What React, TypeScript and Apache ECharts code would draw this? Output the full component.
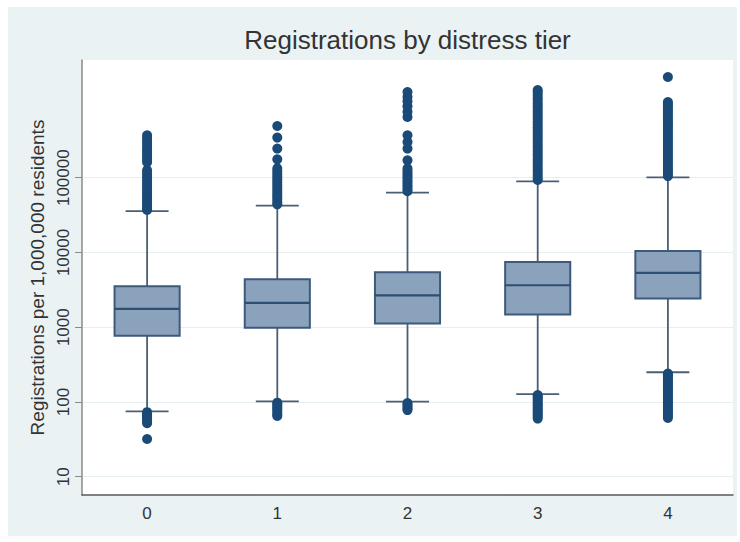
import React, { useEffect, useRef } from "react";
import * as echarts from "echarts";

const categories = ["0", "1", "2", "3", "4"];
const yTickValues = [10, 100, 1000, 10000, 100000];

// [lower whisker, q1, median, q3, upper whisker]
const boxStats = [
  [75, 766, 1760, 3530, 35600],
  [102, 980, 2110, 4380, 42400],
  [101, 1120, 2660, 5430, 63200],
  [127, 1480, 3640, 7470, 89500],
  [250, 2420, 5320, 10470, 101000],
];

const outliers0 = [
  37000, 39000, 41000, 44000, 47000, 50000, 54000, 58000, 62000, 67000, 72000, 78000, 85000, 92000,
  100000, 108000, 117000, 126000, 161000, 175000, 190000, 205000, 222000, 240000, 260000, 285000,
  310000, 340000, 369000, 73, 70, 67, 64, 61, 58, 55, 52, 32,
];
const outliers1 = [
  44000, 47000, 51000, 55000, 59000, 64000, 69000, 75000, 81000, 88000, 95000, 103000, 112000,
  122000, 133000, 176000, 245000, 344000, 491000, 98, 93, 88, 83, 78, 73, 68, 65,
];
const outliers2 = [
  66000, 70000, 75000, 80000, 86000, 92000, 99000, 106000, 114000, 123000, 133000, 171000, 245000,
  300000, 369000, 650000, 760000, 900000, 1050000, 1200000, 1400000, 97, 92, 87, 82, 78,
];
const outliers3 = [
  93000, 100000, 108000, 117000, 127000, 138000, 150000, 163000, 177000, 192000, 208000, 226000,
  245000, 266000, 289000, 314000, 341000, 370000, 402000, 436000, 474000, 515000, 560000, 608000,
  660000, 717000, 779000, 846000, 920000, 1000000, 1090000, 1180000, 1290000, 1400000, 1490000,
  124, 118, 112, 106, 100, 95, 90, 85, 80, 76, 72, 68, 64, 60,
];
const outliers4 = [
  105000, 112000, 120000, 129000, 139000, 150000, 162000, 175000, 189000, 204000, 220000, 238000,
  257000, 278000, 300000, 325000, 351000, 380000, 410000, 443000, 480000, 520000, 560000, 610000,
  660000, 710000, 770000, 830000, 900000, 970000, 1030000, 2220000,
  240, 228, 216, 204, 193, 182, 172, 162, 153, 144, 136, 128, 120, 113, 106, 100, 94, 88, 83, 78,
  73, 69, 65, 61,
];
const outlierLists = [outliers0, outliers1, outliers2, outliers3, outliers4];

const titleText = "Registrations by distress tier";
const yAxisTitle = "Registrations per 1,000,000 residents";

export default function App() {
  const ref = useRef<HTMLDivElement>(null);

  useEffect(() => {
    if (!ref.current) return;
    const chart = echarts.init(ref.current, null, { renderer: "svg" });

    const boxData = boxStats.map((s, i) => [i, ...s]);
    const scatterData: number[][] = [];
    outlierLists.forEach((list, i) => list.forEach((v) => scatterData.push([i, v])));

    const whiskerColor = "#4a5f74";
    const renderBox = (params: any, api: any) => {
      const x = api.value(0);
      const lo = api.coord([x, api.value(1)]);
      const q1 = api.coord([x, api.value(2)]);
      const med = api.coord([x, api.value(3)]);
      const q3 = api.coord([x, api.value(4)]);
      const hi = api.coord([x, api.value(5)]);
      const band = api.size([1, 0])[0];
      const bw = band * 0.5;
      const cw = band * 0.33;
      const cx = q1[0];
      const lineStyle = { stroke: whiskerColor, lineWidth: 1.8 };
      return {
        type: "group",
        children: [
          { type: "line", shape: { x1: cx, y1: lo[1], x2: cx, y2: q1[1] }, style: lineStyle },
          { type: "line", shape: { x1: cx, y1: q3[1], x2: cx, y2: hi[1] }, style: lineStyle },
          { type: "line", shape: { x1: cx - cw / 2, y1: lo[1], x2: cx + cw / 2, y2: lo[1] }, style: lineStyle },
          { type: "line", shape: { x1: cx - cw / 2, y1: hi[1], x2: cx + cw / 2, y2: hi[1] }, style: lineStyle },
          {
            type: "rect",
            shape: { x: cx - bw / 2, y: q3[1], width: bw, height: q1[1] - q3[1] },
            style: { fill: "#8ba2bd", stroke: "#3d5a7c", lineWidth: 2 },
          },
          {
            type: "line",
            shape: { x1: cx - bw / 2, y1: med[1], x2: cx + bw / 2, y2: med[1] },
            style: { stroke: "#2e4e72", lineWidth: 2.2 },
          },
        ],
      };
    };

    chart.setOption({
      animation: false,
      backgroundColor: "#eaf2f3",
      textStyle: { fontFamily: "Liberation Sans, Arial, sans-serif" },
      title: {
        text: titleText,
        left: 399.5,
        textAlign: "center",
        top: 20,
        padding: 0,
        textStyle: { fontSize: 26, fontWeight: "normal", color: "#333" },
      },
      grid: {
        left: 74,
        right: 4,
        top: 53,
        bottom: 41,
        show: true,
        backgroundColor: "#ffffff",
        borderWidth: 0,
      },
      xAxis: {
        type: "category",
        data: categories,
        boundaryGap: true,
        axisLine: { show: true, lineStyle: { color: "#5a5a5a", width: 1.5 } },
        axisTick: { show: false },
        axisLabel: { color: "#333", fontSize: 17, margin: 10 },
        splitLine: { show: false },
      },
      yAxis: {
        type: "log",
        logBase: 10,
        min: 5.7,
        max: 3750000,
        name: yAxisTitle,
        nameLocation: "middle",
        nameGap: 32,
        nameTextStyle: { fontSize: 19, color: "#333" },
        axisLine: { show: true, lineStyle: { color: "#8a8a8a", width: 1.5 } },
        axisTick: { show: true, length: 7, customValues: yTickValues, lineStyle: { color: "#8a8a8a" } },
        axisLabel: {
          show: true,
          customValues: yTickValues,
          rotate: 90,
          margin: 10,
          fontSize: 17,
          color: "#333",
          formatter: (v: number) => String(Math.round(v)),
        },
        splitLine: { show: true, lineStyle: { color: "#e6eef0", width: 1.2 } },
      },
      series: [
        {
          type: "custom",
          renderItem: renderBox,
          data: boxData,
          encode: { x: 0, y: [1, 2, 3, 4, 5] },
          z: 2,
        },
        {
          type: "scatter",
          data: scatterData,
          symbol: "circle",
          symbolSize: 10,
          itemStyle: { color: "#1a4a78", opacity: 1 },
          z: 3,
        },
      ],
    });

    return () => chart.dispose();
  }, []);

  return (
    <div
      ref={ref}
      style={{ position: "absolute", left: 8, top: 7, width: 729, height: 529 }}
    />
  );
}
